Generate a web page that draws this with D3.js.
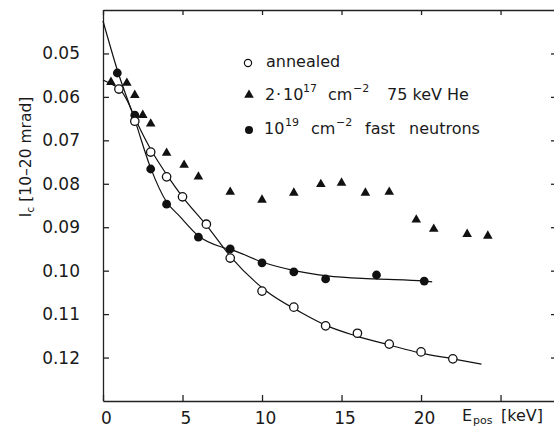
<!DOCTYPE html>
<html>
<head>
<meta charset="utf-8">
<script src="https://cdn.jsdelivr.net/npm/d3@7"></script>
<style>
  html, body { margin: 0; padding: 0; background: #fff; }
  svg { display: block; font-family: "DejaVu Sans", sans-serif; }
  .axis path, .axis line { stroke: #222; stroke-width: 1.3; }
  .axis text { font-size: 17px; fill: #1a1a1a; font-family: "DejaVu Sans", sans-serif; }
  .fit { fill: none; stroke: #111; stroke-width: 1.2; }
  .lbl { fill: #1a1a1a; white-space: pre; }
</style>
</head>
<body>
<div id="chart"></div>
<script>
const annealedE  = [1, 2, 3, 4, 5, 6.5, 8, 10, 12, 14, 16, 18, 20, 22];
const annealedIc = [0.0582, 0.0656, 0.0727, 0.0784, 0.0830, 0.0893, 0.0971, 0.1047, 0.1084, 0.1127, 0.1144, 0.1169, 0.1187, 0.1203];

const heliumE  = [0.5, 1.5, 2, 2.5, 3, 4, 5.1, 6, 8, 10, 12, 13.7, 15, 16.5, 18, 19.7, 20.8, 22.9, 24.2];
const heliumIc = [0.0566, 0.0568, 0.0596, 0.0642, 0.0662, 0.0729, 0.0757, 0.0784, 0.0819, 0.0837, 0.0821, 0.0801, 0.0798, 0.0821, 0.0819, 0.0883, 0.0904, 0.0916, 0.0920];

const neutronE  = [0.9, 2, 3, 4, 6, 8, 10, 12, 14, 17.2, 20.2];
const neutronIc = [0.0545, 0.0642, 0.0766, 0.0847, 0.0923, 0.0950, 0.0982, 0.1003, 0.1019, 0.1010, 0.1024];

// hand drawn fit curves
const annealedFitE  = [0, 0.5, 1.1, 1.5, 2.1, 3.1, 4.1, 5, 6.5, 8.1, 10.2, 12.4, 14.1, 15.9, 18, 20, 22, 23.8];
const annealedFitIc = [0.0561, 0.0570, 0.0584, 0.0607, 0.0656, 0.0727, 0.0784, 0.0830, 0.0895, 0.0971, 0.1045, 0.1095, 0.1127, 0.1150, 0.1171, 0.1190, 0.1203, 0.1215];

const neutronFitE  = [0, 0.9, 2, 3, 4, 4.8, 6, 7.5, 8.1, 10, 12.2, 14.1, 17.1, 20.2, 20.7];
const neutronFitIc = [0.0425, 0.0538, 0.0653, 0.0764, 0.0842, 0.0874, 0.0920, 0.0946, 0.0952, 0.0980, 0.1001, 0.1012, 0.1019, 0.1024, 0.1026];

const xTicks = [0, 5, 10, 15, 20, 25];
const xTickLabels = ["0", "5", "10", "15", "20", ""];
const yTicks = [0.05, 0.06, 0.07, 0.08, 0.09, 0.10, 0.11, 0.12];

function zip(xs, ys) {
	return xs.map(function(v, i) { return { e: v, ic: ys[i] }; });
}

function Chart(id) {
	this.margin = { top: 10, right: -3, bottom: 28, left: 103 };
	this.id = id;
	this.width = 554 - this.margin.left - this.margin.right;
	this.height = 429 - this.margin.top - this.margin.bottom;
}

Chart.prototype = {
	constructor: Chart,

	init: function() {
		let self = this;

		self.svg = d3.select(self.id).append("svg")
			.attr("width", 554)
			.attr("height", 429);

		let g = self.svg.append("g")
			.attr("transform", "translate(" + self.margin.left + "," + self.margin.top + ")");

		let x = d3.scaleLinear().domain([0, 28.55]).range([0, self.width]),
			y = d3.scaleLinear().domain([0.04, 0.13]).range([0, self.height]);

		// frame with inward ticks
		g.append("g")
			.attr("class", "axis axis--x")
			.attr("transform", "translate(0," + self.height + ")")
			.call(d3.axisBottom(x).tickValues(xTicks).tickSizeInner(-6).tickSizeOuter(0).tickPadding(11)
				.tickFormat(function(d, i) { return xTickLabels[i]; }))
			.selectAll("text").attr("dx", 3);

		g.append("g")
			.attr("class", "axis axis--top")
			.call(d3.axisTop(x).tickValues(xTicks).tickSizeInner(-5).tickSizeOuter(0).tickFormat(""));

		g.append("g")
			.attr("class", "axis axis--y")
			.call(d3.axisLeft(y).tickValues(yTicks).tickSizeInner(-6).tickSizeOuter(0).tickPadding(23)
				.tickFormat(d3.format(".2f")));

		g.append("g")
			.attr("class", "axis axis--right")
			.attr("transform", "translate(" + self.width + ",0)")
			.call(d3.axisRight(y).tickValues(yTicks).tickSizeInner(-6).tickSizeOuter(0).tickFormat(""));

		let line = d3.line()
			.curve(d3.curveMonotoneX)
			.x(function(d) { return x(d.e); })
			.y(function(d) { return y(d.ic); });

		g.append("path").attr("class", "fit").attr("d", line(zip(annealedFitE, annealedFitIc)));
		g.append("path").attr("class", "fit").attr("d", line(zip(neutronFitE, neutronFitIc)));

		let tri = d3.symbol().type(d3.symbolTriangle).size(40);

		g.selectAll(".he")
			.data(zip(heliumE, heliumIc))
			.enter().append("path")
			.attr("class", "he")
			.attr("d", tri)
			.attr("transform", function(d) { return "translate(" + x(d.e) + "," + y(d.ic) + ")"; })
			.attr("fill", "#111");

		g.selectAll(".neu")
			.data(zip(neutronE, neutronIc))
			.enter().append("circle")
			.attr("class", "neu")
			.attr("cx", function(d) { return x(d.e); })
			.attr("cy", function(d) { return y(d.ic); })
			.attr("r", 4.4)
			.attr("fill", "#111");

		g.selectAll(".ann")
			.data(zip(annealedE, annealedIc))
			.enter().append("circle")
			.attr("class", "ann")
			.attr("cx", function(d) { return x(d.e); })
			.attr("cy", function(d) { return y(d.ic); })
			.attr("r", 4.2)
			.attr("fill", "#fff")
			.attr("stroke", "#111")
			.attr("stroke-width", 1.3);

		self.titles();
		self.legend();
	},

	titles: function() {
		let self = this;

		let xt = self.svg.append("text").attr("class", "lbl").attr("y", 421).attr("font-size", 16);
		xt.append("tspan").attr("x", 462).text("E");
		xt.append("tspan").attr("x", 473).attr("dy", 3).attr("font-size", 11).text("pos");
		xt.append("tspan").attr("x", 501).attr("dy", -3).text("[keV]");

		let yt = self.svg.append("text").attr("class", "lbl")
			.attr("transform", "translate(31,157) rotate(-90)")
			.attr("text-anchor", "middle")
			.attr("font-size", 15.5);
		yt.append("tspan").text("I");
		yt.append("tspan").attr("dy", 3).attr("font-size", 11).text("c");
		yt.append("tspan").attr("dy", -3).text(" [10–20 mrad]");
	},

	legend: function() {
		let self = this;
		let lg = self.svg.append("g").attr("font-size", 16);

		lg.append("circle").attr("cx", 248).attr("cy", 63).attr("r", 3.6)
			.attr("fill", "#fff").attr("stroke", "#111").attr("stroke-width", 1.2);
		lg.append("path").attr("d", d3.symbol().type(d3.symbolTriangle).size(40))
			.attr("transform", "translate(249,95)").attr("fill", "#111");
		lg.append("circle").attr("cx", 249).attr("cy", 130).attr("r", 4).attr("fill", "#111");

		lg.append("text").attr("class", "lbl").attr("x", 266).attr("y", 67).text("annealed");

		let t2 = lg.append("text").attr("class", "lbl").attr("y", 100);
		t2.append("tspan").attr("x", 265).text("2");
		t2.append("tspan").attr("x", 276).text("·");
		t2.append("tspan").attr("x", 283).text("10");
		t2.append("tspan").attr("x", 303).attr("dy", -8).attr("font-size", 11).text("17");
		t2.append("tspan").attr("x", 328).attr("dy", 8).text("cm");
		t2.append("tspan").attr("x", 353).attr("dy", -8).attr("font-size", 11).text("−2");
		t2.append("tspan").attr("x", 387).attr("dy", 8).text("75 keV He");

		let t3 = lg.append("text").attr("class", "lbl").attr("y", 134);
		t3.append("tspan").attr("x", 264).text("10");
		t3.append("tspan").attr("x", 285).attr("dy", -8).attr("font-size", 11).text("19");
		t3.append("tspan").attr("x", 311).attr("dy", 8).text("cm");
		t3.append("tspan").attr("x", 336).attr("dy", -8).attr("font-size", 11).text("−2");
		t3.append("tspan").attr("x", 365).attr("dy", 8).text("fast");
		t3.append("tspan").attr("x", 409).text("neutrons");
	}
}

let chart = new Chart("#chart");
chart.init();
</script>
</body>
</html>
